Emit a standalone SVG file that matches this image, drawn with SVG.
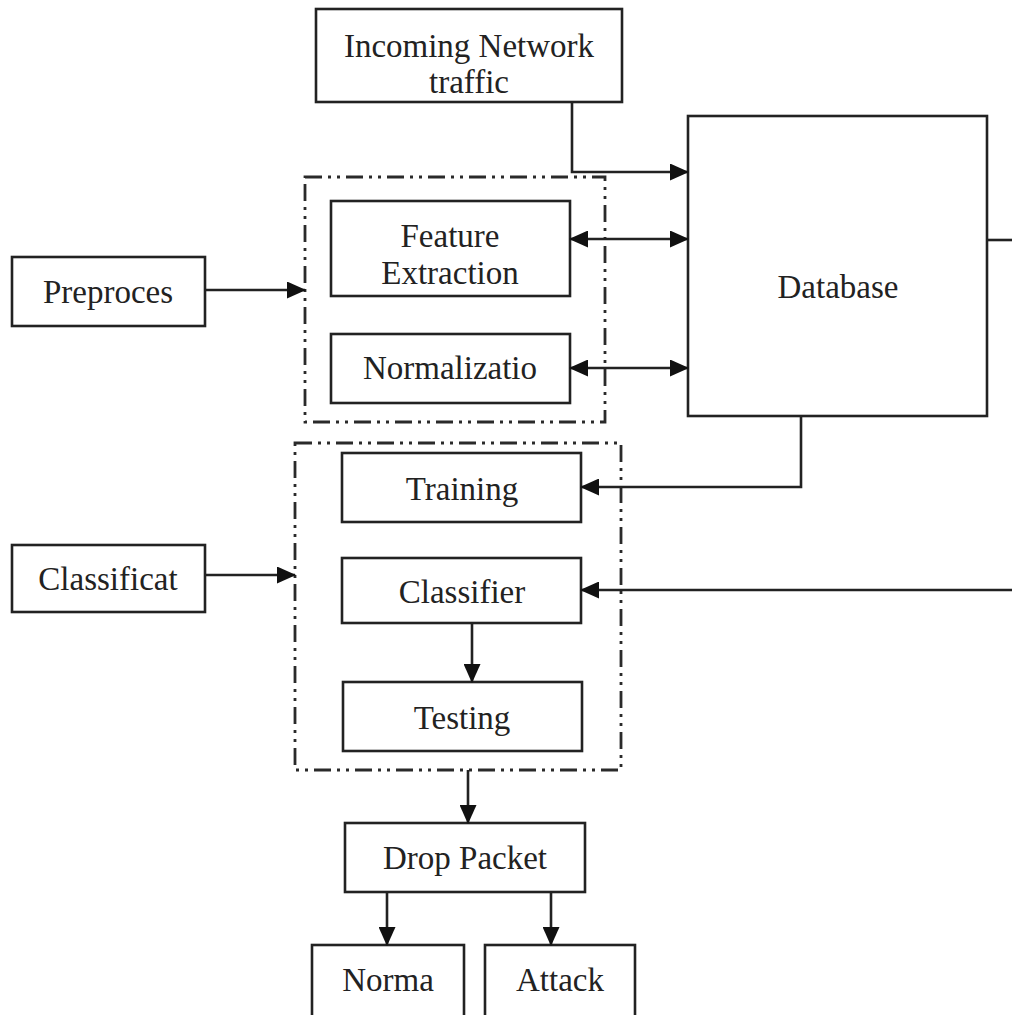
<svg xmlns="http://www.w3.org/2000/svg" width="1012" height="1015" viewBox="0 0 1012 1015">
<style>
.box{fill:#fff;stroke:#222;stroke-width:2.6}
.grp{fill:none;stroke:#2a2a2a;stroke-width:2.8;stroke-dasharray:17 6 3 6 3 6}
.lbl{font-family:"Liberation Serif","Times New Roman",serif;font-size:33px;fill:#222;text-anchor:middle}
.con{fill:none;stroke:#222;stroke-width:2.6}
</style>
<defs>
<marker id="arr" markerUnits="userSpaceOnUse" markerWidth="19" markerHeight="17" refX="18" refY="8.5" orient="auto-start-reverse">
<path d="M0,0 L19,8.5 L0,17 z" fill="#111"/>
</marker>
</defs>
<rect width="1012" height="1015" fill="#fff"/>
<g id="group-preprocess"><rect class="grp" x="305" y="177" width="300" height="245"/></g>
<g id="group-classification"><rect class="grp" x="295" y="443" width="326" height="327"/></g>
<g id="incoming"><rect class="box" x="316" y="9" width="306" height="93"/><text class="lbl" x="469" y="57">Incoming Network</text><text class="lbl" x="469" y="93">traffic</text></g>
<g id="database"><rect class="box" x="688" y="116" width="299" height="300"/><text class="lbl" x="838" y="298">Database</text></g>
<g id="feature"><rect class="box" x="331" y="201" width="239" height="95"/><text class="lbl" x="450" y="247">Feature</text><text class="lbl" x="450" y="284">Extraction</text></g>
<g id="normalization"><rect class="box" x="331" y="334" width="239" height="69"/><text class="lbl" x="450" y="379">Normalizatio</text></g>
<g id="preproces"><rect class="box" x="12" y="257" width="193" height="69"/><text class="lbl" x="108" y="303">Preproces</text></g>
<g id="training"><rect class="box" x="342" y="453" width="239" height="69"/><text class="lbl" x="462" y="500">Training</text></g>
<g id="classifier"><rect class="box" x="342" y="558" width="239" height="65"/><text class="lbl" x="462" y="603">Classifier</text></g>
<g id="testing"><rect class="box" x="343" y="682" width="239" height="69"/><text class="lbl" x="462" y="729">Testing</text></g>
<g id="classificat"><rect class="box" x="12" y="545" width="193" height="67"/><text class="lbl" x="108" y="590">Classificat</text></g>
<g id="drop"><rect class="box" x="345" y="823" width="240" height="69"/><text class="lbl" x="465" y="869">Drop Packet</text></g>
<g id="norma"><rect class="box" x="312" y="945" width="152" height="90"/><text class="lbl" x="388" y="991">Norma</text></g>
<g id="attack"><rect class="box" x="485" y="945" width="150" height="90"/><text class="lbl" x="560" y="991">Attack</text></g>
<g id="connectors">
<path class="con" d="M572,102 V172 H688" marker-end="url(#arr)"/>
<path class="con" d="M570,239 H688" marker-start="url(#arr)" marker-end="url(#arr)"/>
<path class="con" d="M570,368 H688" marker-start="url(#arr)" marker-end="url(#arr)"/>
<path class="con" d="M205,290 H305" marker-end="url(#arr)"/>
<path class="con" d="M801,416 V487 H581" marker-end="url(#arr)"/>
<path class="con" d="M987,240 H1012"/>
<path class="con" d="M1012,590 H581" marker-end="url(#arr)"/>
<path class="con" d="M205,575 H295" marker-end="url(#arr)"/>
<path class="con" d="M472,623 V682" marker-end="url(#arr)"/>
<path class="con" d="M468,770 V823" marker-end="url(#arr)"/>
<path class="con" d="M387,892 V945" marker-end="url(#arr)"/>
<path class="con" d="M551,892 V945" marker-end="url(#arr)"/>
</g>
</svg>
